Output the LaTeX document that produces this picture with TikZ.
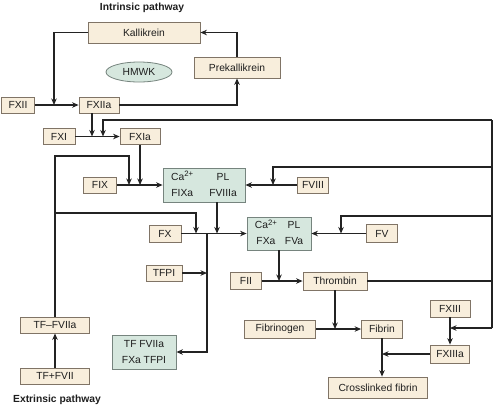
\documentclass[tikz,border=0pt]{standalone}
\usepackage{fontspec}
\setmainfont{Liberation Sans}
\usetikzlibrary{shapes.geometric,arrows.meta,positioning,calc}
\definecolor{boxfill}{RGB}{248,238,220}
\definecolor{boxbdr}{RGB}{128,116,102}
\definecolor{cpxfill}{RGB}{214,231,222}
\definecolor{cpxbdr}{RGB}{118,132,126}
\definecolor{lineclr}{RGB}{35,35,35}
\definecolor{hdrclr}{RGB}{30,30,30}
\newcommand{\cpxtxt}[5]{\renewcommand{\arraystretch}{1.36}%
  \begin{tabular}{@{}c@{\hspace{#5}}c@{}}#1 & #2\\#3 & #4\end{tabular}}
\newcommand{\capp}{Ca\raisebox{3.2pt}{\fontsize{7.8}{8}\selectfont 2+}}
\tikzset{
  %% factor block
  fblk/.style={rectangle,draw=boxbdr,fill=boxfill,line width=0.8pt,
    minimum height=16pt,inner sep=0pt,
    font=\fontsize{10.3}{12}\selectfont,text=hdrclr},
  %% complex block (green)
  cblk/.style={rectangle,draw=cpxbdr,fill=cpxfill,line width=0.8pt,
    minimum height=34pt,inner sep=0pt,align=center,
    font=\fontsize{10.3}{12}\selectfont,text=hdrclr},
  %% cofactor ellipse
  eblk/.style={ellipse,draw=cpxbdr,fill=cpxfill,line width=0.8pt,
    minimum width=66pt,minimum height=20pt,inner sep=0pt,
    font=\fontsize{10.3}{12}\selectfont,text=hdrclr},
  %% arrows
  arr/.style={-{Stealth[length=6.5pt,width=5.5pt]},line width=1.1pt,color=lineclr},
  ln/.style={line width=1.1pt,color=lineclr},
  ttl/.style={font=\bfseries\fontsize{10.3}{12}\selectfont,text=hdrclr},
}

\begin{document}
\begin{tikzpicture}[x=1pt,y=-1pt]
  \useasboundingbox (0,0) rectangle (494,408);

  %% titles
  \node[ttl] (tin) at (142,8)  {Intrinsic pathway};
  \node[ttl] (tex) at (57,400) {Extrinsic pathway};

  %% contact activation
  \node[fblk,minimum width=112pt,minimum height=21pt] (kal)  at (144,32.5) {Kallikrein};
  \node[eblk]                                         (hmwk) at (139,72)   {HMWK};
  \node[fblk,minimum width=86pt,minimum height=21pt]  (prek) at (237,67.5) {Prekallikrein};
  \node[fblk,minimum width=33pt] (fxii)  at (18,105)    {FXII};
  \node[fblk,minimum width=40pt] (fxiia) at (99,105)    {FXIIa};
  \node[fblk,minimum width=32pt] (fxi)   at (59,136.5)  {FXI};
  \node[fblk,minimum width=40pt] (fxia)  at (140,136.5) {FXIa};

  %% tenase / prothrombinase
  \node[fblk,minimum width=33pt] (fix)   at (100,185)   {FIX};
  \node[cblk,minimum width=82pt] (cix)   at (204,185)
    {\cpxtxt{\capp}{PL}{FIXa}{FVIIIa}{16pt}};
  \node[fblk,minimum width=31pt] (fviii) at (313,185)   {FVIII};
  \node[fblk,minimum width=32pt,minimum height=17pt] (fx) at (165,233.5) {FX};
  \node[cblk,minimum width=64pt,minimum height=33pt] (cx) at (279,233.5)
    {\cpxtxt{\capp}{PL}{FXa}{FVa}{8pt}};
  \node[fblk,minimum width=31pt,minimum height=18pt] (fv) at (382,233.5) {FV};
  \node[fblk,minimum width=36pt] (tfpi)  at (164,273)   {TFPI};
  \node[cblk,minimum width=64pt] (tfc)   at (144,352)
    {\renewcommand{\arraystretch}{1.36}\begin{tabular}{@{}c@{}}TF FVIIa\\FXa TFPI\end{tabular}};

  %% fibrin formation
  \node[fblk,minimum width=31pt,minimum height=17pt] (fii)    at (246,281)   {FII};
  \node[fblk,minimum width=64pt,minimum height=18pt] (thr)    at (335,281)   {Thrombin};
  \node[fblk,minimum width=71pt,minimum height=18pt] (fbg)    at (280,329)   {Fibrinogen};
  \node[fblk,minimum width=41pt,minimum height=18pt] (fib)    at (382,329)   {Fibrin};
  \node[fblk,minimum width=40pt,minimum height=17pt] (fxiii)  at (450,308.5) {FXIII};
  \node[fblk,minimum width=39pt,minimum height=18pt] (fxiiia) at (450,354)   {FXIIIa};
  \node[fblk,minimum width=99pt,minimum height=21pt] (xfib)   at (378,387.5) {Crosslinked fibrin};

  %% extrinsic start
  \node[fblk,minimum width=69pt] (tfviia) at (55,325) {TF--FVIIa};
  \node[fblk,minimum width=69pt] (tfvii)  at (55,376) {TF+FVII};

  %% junction points
  \coordinate (jk)  at (54,105);
  \coordinate (ja)  at (92,136.5);
  \coordinate (jb)  at (103,136.5);
  \coordinate (jc)  at (129,185);
  \coordinate (jd)  at (273,185);
  \coordinate (je)  at (196,233.5);
  \coordinate (jf)  at (217,233.5);
  \coordinate (jg)  at (207,233.5);
  \coordinate (jh)  at (341,233.5);
  \coordinate (rt)  at (492,120);
  \coordinate (rb)  at (492,328);

  %% ── arrows ──────────────────────────────────────────────
  %% kallikrein loop
  \draw[arr] (prek.north) |- (kal.east);
  \draw[arr] (kal.west) -| (jk);
  \draw[arr] (fxii) -- (fxiia);
  \draw[arr] (fxiia.east) -| (prek.south);

  %% FXI activation
  \draw[arr] (fxi) -- (fxia);
  \draw[arr] (fxiia.south -| ja) -- (ja);
  \draw[arr] (rt) -| (jb);

  %% tenase
  \draw[arr] (fix) -- (cix);
  \draw[arr] (fxia.south) -- (fxia.south |- cix.west);
  \draw[arr] (tfviia.north) |- ($(jc)+(0,-29)$) -- (jc);
  \draw[arr] (fviii) -- (cix);
  \draw[arr] ($(rt)+(0,47)$) -| (jd);

  %% prothrombinase
  \draw[arr] (fx) -- (cx);
  \draw[arr] ($(tfviia.north |- 0,213)$) -| (je);
  \draw[arr] (cix.south -| jf) -- (jf);
  \draw[arr] (fv) -- (cx);
  \draw[arr] ($(rt)+(0,96)$) -| (jh);

  %% TFPI
  \draw[arr] (jg) |- (tfc.east);
  \draw[arr] (tfpi) -- (tfpi -| jg);

  %% thrombin
  \draw[arr] (cx.south) -- (cx.south |- fii.east);
  \draw[arr] (fii) -- (thr);
  \draw[ln]  (thr.east) -- (thr.east -| rt);
  \draw[ln]  (rt) -- (rb);
  \draw[arr] (rb) -- (rb -| fxiii.south);

  %% fibrin
  \draw[arr] (thr.south) -- (thr.south |- fbg.east);
  \draw[arr] (fbg) -- (fib);
  \draw[arr] (fxiii) -- (fxiiia);
  \draw[arr] (fxiiia.west) -- (fxiiia.west -| fib.south);
  \draw[arr] (fib.south) -- (fib.south |- xfib.north);

  %% extrinsic
  \draw[arr] (tfvii) -- (tfviia);

\end{tikzpicture}
\end{document}
